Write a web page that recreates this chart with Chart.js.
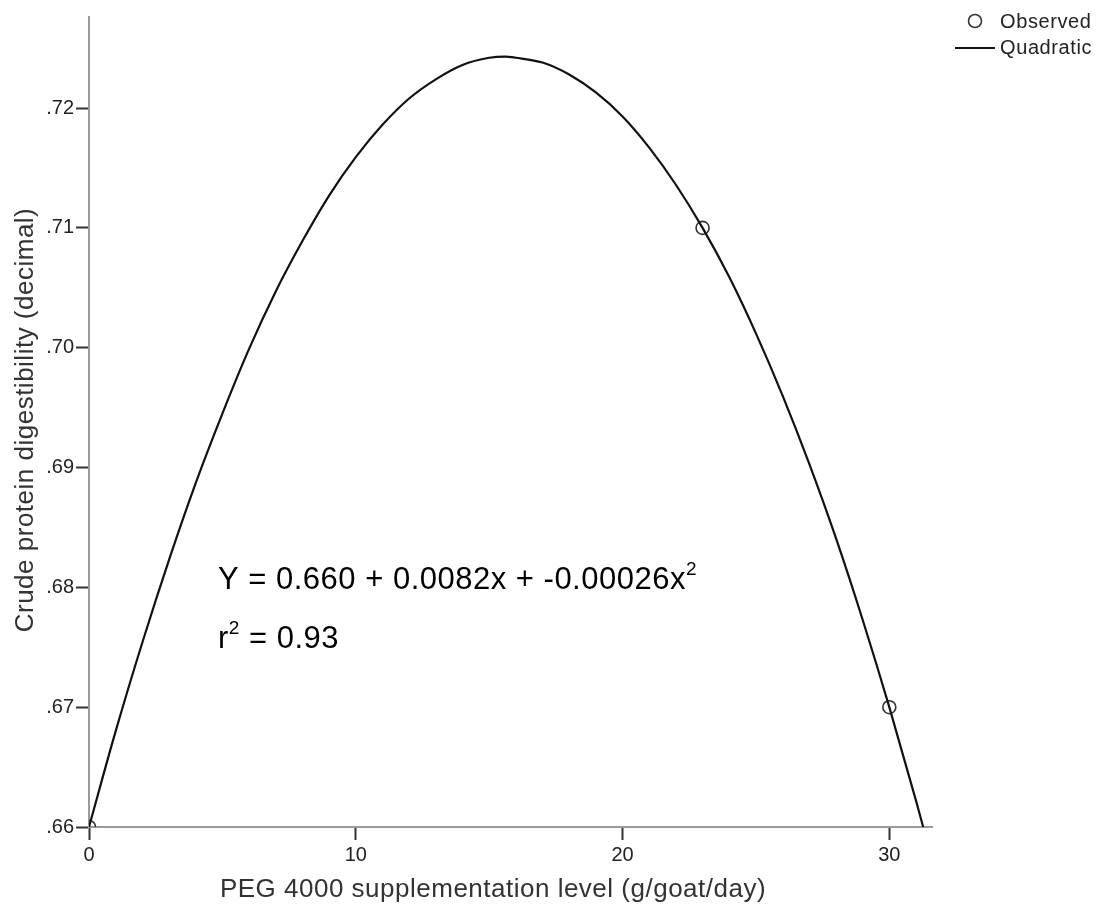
<!DOCTYPE html>
<html>
<head>
<meta charset="utf-8">
<title>Crude protein digestibility</title>
<script src="https://cdn.jsdelivr.net/npm/chart.js@4.4.1/dist/chart.umd.min.js"></script>
<style>
    html, body { margin: 0; padding: 0; background: #ffffff; }
    #wrap { width: 1102px; height: 919px; }
</style>
</head>
<body>
<div id="wrap"><canvas id="cpChart" width="1102" height="919"></canvas></div>
<script>
// Observed means
const obsX = [0, 23, 30];
const obsY = [0.66, 0.71, 0.67];

// Quadratic fit
const fitX = [0, 1, 2, 3, 4, 5, 6, 7, 8, 9, 10, 11, 12, 13, 14, 15, 15.6, 16, 17, 18, 19, 20, 21, 22, 23, 24, 25, 26, 27, 28, 29, 30, 31, 31.27];
const fitY = [0.6600, 0.6680, 0.6754, 0.6823, 0.6887, 0.6945, 0.6999, 0.7047, 0.7089, 0.7127, 0.7159, 0.7186, 0.7208, 0.7224, 0.7236, 0.7242, 0.7243, 0.7242, 0.7238, 0.7228, 0.7213, 0.7193, 0.7167, 0.7136, 0.7100, 0.7059, 0.7012, 0.6960, 0.6903, 0.6841, 0.6773, 0.6700, 0.6622, 0.6600];

// Tick labels
const xTicks = [0, 10, 20, 30];
const yTicks = [0.66, 0.67, 0.68, 0.69, 0.70, 0.71, 0.72];

const FONT = 'Arial, "Liberation Sans", sans-serif';

// Titles, legend and fitted equation drawn on top of the chart
const annotations = {
    id: 'annotations',
    afterDraw(chart) {
        const ctx = chart.ctx;
        ctx.save();

        // axis titles
        ctx.fillStyle = '#333333';
        ctx.font = '26px ' + FONT;
        ctx.letterSpacing = '0.5px';
        ctx.textAlign = 'center';
        ctx.textBaseline = 'middle';
        ctx.fillText('PEG 4000 supplementation level (g/goat/day)', 493, 890);
        ctx.save();
        ctx.translate(26, 420);
        ctx.rotate(-Math.PI / 2);
        ctx.fillText('Crude protein digestibility (decimal)', 0, 0);
        ctx.restore();

        // legend
        ctx.fillStyle = '#222222';
        ctx.font = '20px ' + FONT;
        ctx.letterSpacing = '0.6px';
        ctx.textAlign = 'left';
        ctx.fillText('Observed', 1000, 22);
        ctx.fillText('Quadratic', 1000, 48);
        ctx.letterSpacing = '0px';
        ctx.strokeStyle = '#333333';
        ctx.lineWidth = 1.6;
        ctx.beginPath();
        ctx.arc(975, 21, 6.5, 0, Math.PI * 2);
        ctx.stroke();
        ctx.strokeStyle = '#111111';
        ctx.lineWidth = 2;
        ctx.beginPath();
        ctx.moveTo(955, 48);
        ctx.lineTo(995, 48);
        ctx.stroke();

        // equation and r squared
        ctx.fillStyle = '#000000';
        ctx.textBaseline = 'alphabetic';
        ctx.font = '31px ' + FONT;
        ctx.letterSpacing = '0.5px';
        const eq = 'Y = 0.660 + 0.0082x + -0.00026x';
        ctx.fillText(eq, 218, 589);
        const eqW = ctx.measureText(eq).width;
        ctx.fillText('r', 218, 648);
        const rW = ctx.measureText('r').width;
        ctx.font = '19px ' + FONT;
        ctx.fillText('2', 218 + eqW, 575);
        ctx.fillText('2', 218 + rW, 634);
        const supW = ctx.measureText('2').width;
        ctx.font = '31px ' + FONT;
        ctx.fillText(' = 0.93', 218 + rW + supW, 648);

        ctx.restore();
    }
};

function initChart() {
    const ctx = document.getElementById('cpChart').getContext('2d');
    return new Chart(ctx, {
        type: 'scatter',
        data: {
            datasets: [
                {
                    label: 'Quadratic',
                    type: 'line',
                    data: fitX.map((x, i) => ({ x: x, y: fitY[i] })),
                    borderColor: '#111111',
                    borderWidth: 2.2,
                    pointRadius: 0,
                    fill: false,
                    cubicInterpolationMode: 'monotone',
                    clip: 0
                },
                {
                    label: 'Observed',
                    data: obsX.map((x, i) => ({ x: x, y: obsY[i] })),
                    pointStyle: 'circle',
                    pointRadius: 6.5,
                    backgroundColor: 'rgba(0,0,0,0)',
                    borderColor: '#333333',
                    borderWidth: 1.6,
                    clip: 0
                }
            ]
        },
        options: {
            responsive: false,
            animation: false,
            layout: { padding: { top: 17, right: 170, left: 0, bottom: 0 } },
            plugins: {
                legend: { display: false },
                tooltip: { enabled: false }
            },
            scales: {
                x: {
                    type: 'linear',
                    min: 0,
                    max: 31.6,
                    afterBuildTicks: s => { s.ticks = xTicks.map(v => ({ value: v })); },
                    afterFit: s => { s.height = 92; },
                    border: { color: '#9a9a9a', width: 2 },
                    grid: { drawOnChartArea: false, tickLength: 13, tickColor: '#333333', tickWidth: 2 },
                    ticks: {
                        color: '#222222',
                        padding: 3,
                        maxRotation: 0,
                        font: { family: FONT, size: 20 },
                        callback: v => String(v)
                    }
                },
                y: {
                    type: 'linear',
                    min: 0.66,
                    max: 0.7276,
                    afterBuildTicks: s => { s.ticks = yTicks.map(v => ({ value: v })); },
                    afterFit: s => { s.width = 89; },
                    border: { color: '#9a9a9a', width: 2 },
                    grid: { drawOnChartArea: false, tickLength: 13, tickColor: '#333333', tickWidth: 2 },
                    ticks: {
                        color: '#222222',
                        padding: 2,
                        font: { family: FONT, size: 20 },
                        callback: v => v.toFixed(2).replace(/^0/, '')
                    }
                }
            }
        },
        plugins: [annotations]
    });
}

document.addEventListener('DOMContentLoaded', initChart);
</script>
</body>
</html>
